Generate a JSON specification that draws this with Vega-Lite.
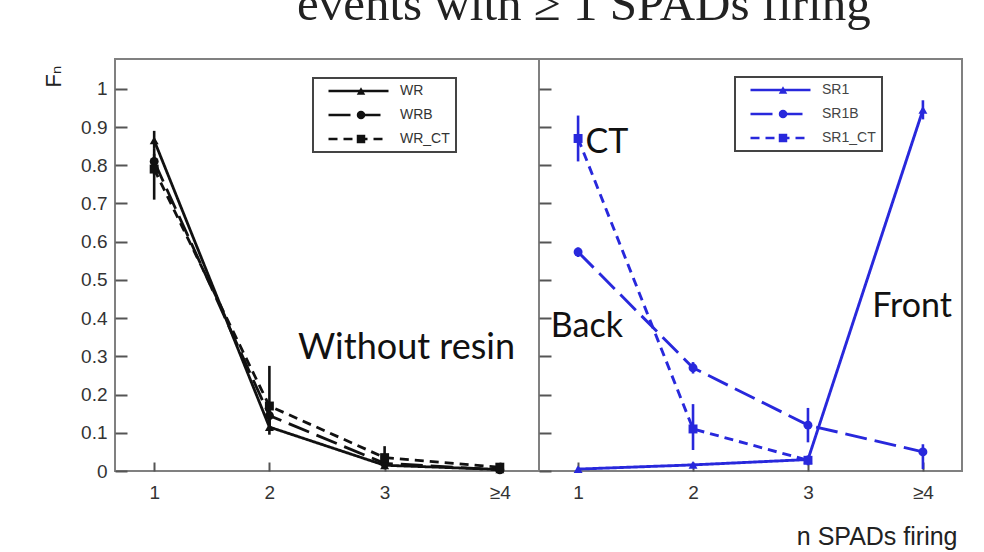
{
  "$schema": "https://vega.github.io/schema/vega-lite/v6.json",
  "background": "white",
  "padding": {"left": 41, "top": -19, "right": 20, "bottom": 0},
  "bounds": "flush",
  "spacing": 0,
  "title": {
    "text": "events with ≥ 1 SPADs firing",
    "font": "Liberation Serif",
    "fontSize": 49,
    "fontWeight": "normal",
    "color": "#222",
    "anchor": "start",
    "frame": "group",
    "dx": 182,
    "offset": -11,
    "baseline": "alphabetic"
  },
  "datasets": {
    "without_resin": [
      {"series": "WR", "n": 1, "F": 0.865, "lo": 0.845, "hi": 0.89},
      {"series": "WR", "n": 2, "F": 0.115, "lo": 0.095, "hi": 0.135},
      {"series": "WR", "n": 3, "F": 0.015, "lo": 0.005, "hi": 0.028},
      {"series": "WR", "n": 4, "F": 0.004, "lo": 0.0, "hi": 0.012},
      {"series": "WRB", "n": 1, "F": 0.81, "lo": 0.775, "hi": 0.845},
      {"series": "WRB", "n": 2, "F": 0.145, "lo": 0.115, "hi": 0.18},
      {"series": "WRB", "n": 3, "F": 0.02, "lo": 0.005, "hi": 0.045},
      {"series": "WRB", "n": 4, "F": 0.003, "lo": 0.0, "hi": 0.01},
      {"series": "WR_CT", "n": 1, "F": 0.79, "lo": 0.71, "hi": 0.83},
      {"series": "WR_CT", "n": 2, "F": 0.17, "lo": 0.11, "hi": 0.275},
      {"series": "WR_CT", "n": 3, "F": 0.035, "lo": 0.005, "hi": 0.065},
      {"series": "WR_CT", "n": 4, "F": 0.01, "lo": 0.0, "hi": 0.02}
    ],
    "with_resin": [
      {"series": "SR1", "n": 1, "F": 0.005, "lo": 0.0, "hi": 0.01},
      {"series": "SR1", "n": 2, "F": 0.016, "lo": 0.01, "hi": 0.022},
      {"series": "SR1", "n": 3, "F": 0.03, "lo": 0.02, "hi": 0.04},
      {"series": "SR1", "n": 4, "F": 0.945, "lo": 0.92, "hi": 0.97},
      {"series": "SR1B", "n": 1, "F": 0.573, "lo": 0.56, "hi": 0.585},
      {"series": "SR1B", "n": 2, "F": 0.27, "lo": 0.255, "hi": 0.285},
      {"series": "SR1B", "n": 3, "F": 0.12, "lo": 0.075, "hi": 0.165},
      {"series": "SR1B", "n": 4, "F": 0.05, "lo": 0.005, "hi": 0.07},
      {"series": "SR1_CT", "n": 1, "F": 0.87, "lo": 0.81, "hi": 0.93},
      {"series": "SR1_CT", "n": 2, "F": 0.11, "lo": 0.055, "hi": 0.175},
      {"series": "SR1_CT", "n": 3, "F": 0.028, "lo": 0.015, "hi": 0.04}
    ]
  },
  "hconcat": [
    {
      "width": 424,
      "height": 412,
      "layer": [
        {
          "data": {"name": "without_resin"},
          "mark": {"type": "rule", "color": "#111", "strokeWidth": 2.6},
          "encoding": {
            "x": {
              "field": "n", "type": "quantitative",
              "scale": {"domain": [0.66, 4.34], "nice": false, "zero": false},
              "axis": {"values": [1, 2, 3, 4], "format": "d", "labelExpr": "datum.value == 4 ? '≥4' : datum.label", "tickSize": -9, "labelPadding": 21, "title": null}
            },
            "y": {
              "field": "lo", "type": "quantitative",
              "scale": {"domain": [0, 1.078], "nice": false},
              "axis": {
                "values": [0, 0.1, 0.2, 0.3, 0.4, 0.5, 0.6, 0.7, 0.8, 0.9, 1],
                "format": ".1~f", "tickSize": -12, "labelPadding": 20,
                "title": "Fₙ", "titleAngle": 270, "titleX": -55, "titleY": 17,
                "titleAlign": "center", "titleBaseline": "alphabetic",
                "titleFont": "Liberation Sans, DejaVu Sans", "titleFontSize": 22, "titleFontWeight": "normal", "titleColor": "#222"
              }
            },
            "y2": {"field": "hi"}
          }
        },
        {
          "data": {"name": "without_resin"},
          "mark": {"type": "line", "color": "#111", "strokeWidth": 2.8},
          "encoding": {
            "x": {"field": "n", "type": "quantitative"},
            "y": {"field": "F", "type": "quantitative"},
            "strokeDash": {
              "field": "series", "type": "nominal",
              "scale": {"domain": ["WR", "WRB", "WR_CT"], "range": [[1, 0], [22, 8], [9, 6]]},
              "legend": {
                "orient": "none", "legendX": 198, "legendY": 19, "title": null, "zindex": 1,
                "symbolType": "stroke", "symbolSize": 3600, "symbolStrokeWidth": 2.5, "symbolStrokeColor": "#111",
                "clipHeight": 14, "rowPadding": 10, "padding": 6, "symbolOffset": 8, "labelOffset": 10,
                "labelFont": "Liberation Sans", "labelFontSize": 14, "labelColor": "#333",
                "strokeColor": "#444",
                "encode": {"legend": {"update": {"strokeWidth": {"value": 2}}}}
              }
            }
          }
        },
        {
          "data": {"name": "without_resin"},
          "mark": {"type": "point", "filled": true, "color": "#111", "size": 80, "opacity": 1},
          "encoding": {
            "x": {"field": "n", "type": "quantitative"},
            "y": {"field": "F", "type": "quantitative"},
            "shape": {
              "field": "series", "type": "nominal",
              "scale": {"domain": ["WRB", "WR", "WR_CT"], "range": ["circle", "triangle-up", "square"]},
              "legend": {
                "orient": "none", "legendX": 233, "legendY": 19, "title": null, "zindex": 2,
                "values": ["WR", "WRB", "WR_CT"],
                "symbolSize": 72, "symbolStrokeWidth": 0, "symbolFillColor": "#111", "symbolOpacity": 1,
                "clipHeight": 14, "rowPadding": 10, "padding": 6, "symbolOffset": 0,
                "labelExpr": "''", "labelFontSize": 14
              }
            }
          }
        },
        {
          "data": {"values": [{"note": "Without resin"}]},
          "mark": {"type": "text", "font": "Lato", "fontSize": 36, "align": "center", "baseline": "middle", "color": "#111"},
          "encoding": {
            "text": {"field": "note", "type": "nominal"},
            "x": {"datum": 3.19, "type": "quantitative"},
            "y": {"datum": 0.323, "type": "quantitative"}
          }
        }
      ]
    },
    {
      "width": 423,
      "height": 412,
      "layer": [
        {
          "data": {"name": "with_resin"},
          "mark": {"type": "rule", "color": "#2828dc", "strokeWidth": 2.6},
          "encoding": {
            "x": {
              "field": "n", "type": "quantitative",
              "scale": {"domain": [0.66, 4.34], "nice": false, "zero": false},
              "axis": {
                "values": [1, 2, 3, 4], "format": "d", "labelExpr": "datum.value == 4 ? '≥4' : datum.label", "tickSize": -9, "labelPadding": 21,
                "title": "n SPADs firing", "titleFont": "Liberation Sans", "titleFontSize": 25, "titleFontWeight": "normal", "titleColor": "#222",
                "titleAnchor": "end", "titleAlign": "right", "titleBaseline": "alphabetic", "titleX": 418, "titleY": 73
              }
            },
            "y": {
              "field": "lo", "type": "quantitative",
              "scale": {"domain": [0, 1.078], "nice": false},
              "axis": {
                "values": [0, 0.1, 0.2, 0.3, 0.4, 0.5, 0.6, 0.7, 0.8, 0.9, 1],
                "labels": false, "tickSize": -12, "title": null
              }
            },
            "y2": {"field": "hi"}
          }
        },
        {
          "data": {"name": "with_resin"},
          "mark": {"type": "line", "color": "#2828dc", "strokeWidth": 2.9},
          "encoding": {
            "x": {"field": "n", "type": "quantitative"},
            "y": {"field": "F", "type": "quantitative"},
            "strokeDash": {
              "field": "series", "type": "nominal",
              "scale": {"domain": ["SR1", "SR1B", "SR1_CT"], "range": [[1, 0], [22, 8], [9, 6]]},
              "legend": {
                "orient": "none", "legendX": 196, "legendY": 18, "title": null, "zindex": 1,
                "symbolType": "stroke", "symbolSize": 3600, "symbolStrokeWidth": 2.5, "symbolStrokeColor": "#2828dc",
                "clipHeight": 14, "rowPadding": 10, "padding": 6, "symbolOffset": 8, "labelOffset": 10,
                "labelFont": "Liberation Sans", "labelFontSize": 14, "labelColor": "#444",
                "strokeColor": "#444",
                "encode": {"legend": {"update": {"strokeWidth": {"value": 2}}}}
              }
            }
          }
        },
        {
          "data": {"name": "with_resin"},
          "mark": {"type": "point", "filled": true, "color": "#2828dc", "size": 80, "opacity": 1},
          "encoding": {
            "x": {"field": "n", "type": "quantitative"},
            "y": {"field": "F", "type": "quantitative"},
            "shape": {
              "field": "series", "type": "nominal",
              "scale": {"domain": ["SR1B", "SR1", "SR1_CT"], "range": ["circle", "triangle-up", "square"]},
              "legend": {
                "orient": "none", "legendX": 231, "legendY": 18, "title": null, "zindex": 2,
                "values": ["SR1", "SR1B", "SR1_CT"],
                "symbolSize": 72, "symbolStrokeWidth": 0, "symbolFillColor": "#2828dc", "symbolOpacity": 1,
                "clipHeight": 14, "rowPadding": 10, "padding": 6, "symbolOffset": 0,
                "labelExpr": "''", "labelFontSize": 14
              }
            }
          }
        },
        {
          "data": {"values": [{"note": "Back"}]},
          "mark": {"type": "text", "font": "Lato", "fontSize": 34, "align": "center", "baseline": "middle", "color": "#111"},
          "encoding": {
            "text": {"field": "note", "type": "nominal"},
            "x": {"datum": 1.077, "type": "quantitative"},
            "y": {"datum": 0.378, "type": "quantitative"}
          }
        },
        {
          "data": {"values": [{"note": "Front"}]},
          "mark": {"type": "text", "font": "Lato", "fontSize": 34, "align": "center", "baseline": "middle", "color": "#111"},
          "encoding": {
            "text": {"field": "note", "type": "nominal"},
            "x": {"datum": 3.906, "type": "quantitative"},
            "y": {"datum": 0.43, "type": "quantitative"}
          }
        },
        {
          "data": {"values": [{"note": "CT"}]},
          "mark": {"type": "text", "font": "Lato", "fontSize": 34, "align": "center", "baseline": "middle", "color": "#111"},
          "encoding": {
            "text": {"field": "note", "type": "nominal"},
            "x": {"datum": 1.25, "type": "quantitative"},
            "y": {"datum": 0.859, "type": "quantitative"}
          }
        }
      ]
    }
  ],
  "resolve": {
    "scale": {"strokeDash": "independent", "shape": "independent"},
    "legend": {"strokeDash": "independent", "shape": "independent"}
  },
  "config": {
    "view": {"stroke": "#808080", "strokeWidth": 2},
    "axis": {
      "grid": false, "domain": false,
      "tickColor": "#555", "tickWidth": 2,
      "labelFont": "Liberation Sans", "labelFontSize": 19, "labelColor": "#333"
    }
  }
}
